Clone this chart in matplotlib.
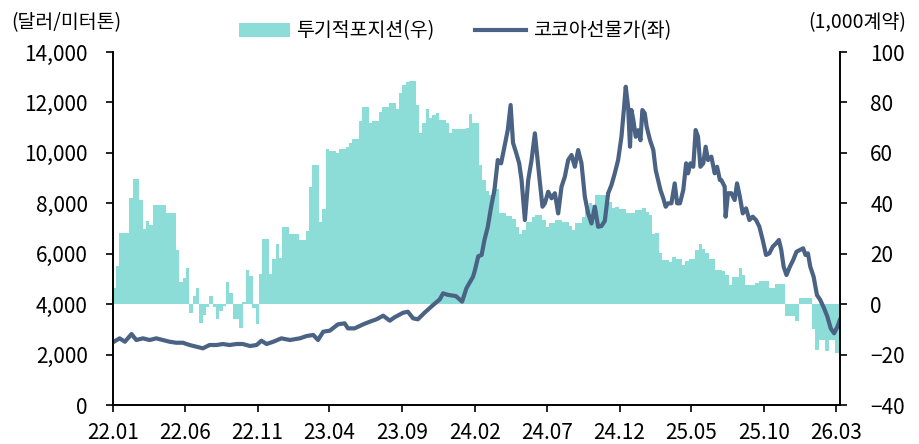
import numpy as np
import pandas as pd
import matplotlib
matplotlib.use('Agg')
import matplotlib.pyplot as plt
import matplotlib.dates as mdates
from matplotlib.ticker import FuncFormatter, MultipleLocator

plt.rcParams['font.family'] = ['Noto Sans CJK KR', 'DejaVu Sans']

# weekly speculative net position (1,000 contracts, right axis)
pos_start = '2022-01-04'
pos_values = [
    6.5, 15, 28.4, 28.4, 28.4, 42.3, 49.6, 49.6, 41.5, 30,
    33, 31.3, 39.3, 39.3, 39.3, 39.3, 36.2, 36.2, 36.2, 21.4,
    8.6, 10.2, 14.2, -3.4, 3.2, 6.5, -7.4, -4.4, -1, 3.2,
    -1, -5.7, -2.6, -0.7, 8.7, 4.6, -5.7, -5.8, -9.6, 1,
    13.5, 11.1, -1.7, -8, 11.8, 26, 26, 12, 18.1, 23.7,
    18.5, 30.7, 30.7, 27.8, 27.8, 27.8, 25.4, 25.4, 29, 46.5,
    55, 55, 32.4, 37.7, 61.5, 60.7, 60.7, 60, 61.5, 61.5,
    62.4, 64, 65.4, 65.4, 72.6, 78.3, 78.3, 72, 72.6, 72.6,
    76.3, 78.3, 78.3, 79.8, 79.8, 77.3, 83.6, 86.9, 88.2, 88.5,
    88.5, 78.9, 67.9, 71.9, 77.3, 74, 75, 75.9, 73.2, 73.2,
    71.7, 67.9, 69.4, 69.4, 69.4, 69.4, 70, 75.6, 71.9, 71.9,
    55, 49.2, 45, 43.2, 45.5, 45.5, 36, 36, 34.9, 34.9,
    33.6, 30.7, 27.8, 29.3, 32.6, 32.6, 34.4, 35.3, 35.3, 33.2,
    30.7, 32.3, 32.3, 33.3, 33.3, 32.6, 32.6, 31.1, 29.6, 32.3,
    32.3, 34.6, 37.3, 40, 39.2, 43.2, 43.2, 43.2, 40.6, 40.6,
    38.3, 38.6, 37.6, 37.6, 36.2, 36.2, 36.2, 37.3, 37.3, 38,
    36.7, 35.3, 28, 28.4, 20.1, 17.4, 17.4, 16.7, 18.8, 17.8,
    17.8, 15.5, 17.2, 17.8, 17.8, 21.4, 23.8, 22, 20.1, 17.8,
    17.8, 13.5, 13.5, 13.2, 11.5, 7.5, 10.8, 10.8, 14.2, 11.5,
    7.5, 7.5, 7.5, 8.5, 9, 9, 9, 6.3, 6.3, 8,
    8, 8, -4.6, -4.6, -4.6, -6.6, 2.4, 2.4, 2.4, 2.4,
    -9.8, -18.3, -14.3, -14.3, -18.7, -14.3, -14.3, -19.3,
]

# cocoa futures price ($/t, left axis)
price_dates = [
    '2022-01-03', '2022-01-15', '2022-01-26', '2022-02-09', '2022-02-19', '2022-03-05',
    '2022-03-19', '2022-04-02', '2022-04-16', '2022-04-30', '2022-05-14', '2022-05-28',
    '2022-06-11', '2022-06-25', '2022-07-09', '2022-07-23', '2022-08-07', '2022-08-20',
    '2022-09-03', '2022-09-18', '2022-10-01', '2022-10-16', '2022-10-30', '2022-11-09',
    '2022-11-20', '2022-12-04', '2022-12-21', '2023-01-08', '2023-01-29', '2023-02-12',
    '2023-02-26', '2023-03-08', '2023-03-19', '2023-04-02', '2023-04-19', '2023-05-03',
    '2023-05-10', '2023-05-24', '2023-06-11', '2023-06-25', '2023-07-09', '2023-07-23',
    '2023-08-06', '2023-08-16', '2023-09-03', '2023-09-13', '2023-09-24', '2023-10-04',
    '2023-10-18', '2023-11-01', '2023-11-19', '2023-11-26', '2023-12-06', '2023-12-23',
    '2024-01-05', '2024-01-14', '2024-01-28', '2024-02-01', '2024-02-08', '2024-02-15',
    '2024-02-21', '2024-02-28', '2024-03-06', '2024-03-13', '2024-03-20', '2024-03-27',
    '2024-04-03', '2024-04-10', '2024-04-16', '2024-04-21', '2024-04-28', '2024-05-04',
    '2024-05-09', '2024-05-16', '2024-05-23', '2024-05-30', '2024-06-06', '2024-06-11',
    '2024-06-16', '2024-06-22', '2024-06-27', '2024-07-04', '2024-07-11', '2024-07-18',
    '2024-07-25', '2024-08-01', '2024-08-08', '2024-08-15', '2024-08-22', '2024-08-29',
    '2024-09-05', '2024-09-12', '2024-09-19', '2024-09-26', '2024-10-03', '2024-10-10',
    '2024-10-17', '2024-10-24', '2024-10-31', '2024-11-07', '2024-11-14', '2024-11-21',
    '2024-11-28', '2024-12-05', '2024-12-10', '2024-12-14', '2024-12-19', '2024-12-23',
    '2024-12-26', '2024-12-30', '2025-01-04', '2025-01-09', '2025-01-14', '2025-01-18',
    '2025-01-23', '2025-01-27', '2025-02-03', '2025-02-10', '2025-02-15', '2025-02-20',
    '2025-02-25', '2025-03-03', '2025-03-08', '2025-03-13', '2025-03-20', '2025-03-27',
    '2025-04-01', '2025-04-07', '2025-04-14', '2025-04-20', '2025-04-24', '2025-04-29',
    '2025-05-05', '2025-05-10', '2025-05-15', '2025-05-20', '2025-05-26', '2025-05-31',
    '2025-06-05', '2025-06-12', '2025-06-19', '2025-06-24', '2025-06-30', '2025-07-03',
    '2025-07-10', '2025-07-12', '2025-07-17', '2025-07-24', '2025-07-31', '2025-08-05',
    '2025-08-11', '2025-08-17', '2025-08-24', '2025-08-31', '2025-09-07', '2025-09-14',
    '2025-09-21', '2025-09-28', '2025-10-05', '2025-10-12', '2025-10-19', '2025-10-26',
    '2025-11-01', '2025-11-06', '2025-11-11', '2025-11-17', '2025-11-24', '2025-12-01',
    '2025-12-08', '2025-12-15', '2025-12-22', '2025-12-27', '2026-01-01', '2026-01-06',
    '2026-01-13', '2026-01-20', '2026-01-27', '2026-02-04', '2026-02-11', '2026-02-18',
    '2026-02-25', '2026-03-04', '2026-03-09',
]
price_values = [
    2510, 2645, 2510, 2815, 2578, 2645,
    2578, 2645, 2578, 2510, 2470, 2470,
    2380, 2312, 2248, 2380, 2380, 2420,
    2380, 2420, 2420, 2340, 2380, 2550,
    2420, 2510, 2645, 2578, 2645, 2736,
    2780, 2578, 2907, 2950, 3200, 3240,
    3040, 3040, 3200, 3305, 3400, 3543,
    3345, 3480, 3660, 3700, 3437, 3400,
    3660, 3900, 4190, 4430, 4370, 4320,
    4100, 4628, 5090, 5350, 5900, 5950,
    6545, 7070, 7865, 8527, 9717, 9586,
    10244, 10906, 11898, 10400, 9980, 9586,
    8924, 7337, 8924, 9717, 10775, 9850,
    8924, 7865, 8000, 8460, 8200, 8400,
    7600, 8660, 9055, 9717, 9915, 9450,
    10113, 9586, 8260, 7600, 7200, 7865,
    7070, 7100, 7300, 8395, 8725, 9190,
    9717, 10640, 11700, 12624, 11830, 10244,
    11700, 11300, 10640, 10900, 10500, 11700,
    11570, 11040, 10510, 10113, 9320, 8924,
    8527, 8197, 7865, 8000, 8000, 8790,
    8000, 8000, 8527, 9586, 9190, 9586,
    9450, 10906, 10640, 9450, 9586, 10244,
    9717, 9850, 9190, 9450, 8924, 8924,
    8660, 7468, 8400, 8400, 8130, 8790,
    8260, 7600, 7800, 7337, 7470, 7337,
    7070, 6545, 5950, 6016, 6280, 6410,
    6545, 6148, 5485, 5155, 5485, 5750,
    6080, 6148, 6215, 5950, 6016, 5485,
    5090, 4363, 4166, 3835, 3502, 3040,
    2845, 3105, 3370,
]

labels = ['투기적포지션(우)', '코코아선물가(좌)']
bar_color = '#8cdcd7'
line_color = '#4a6283'

pos_dates = pd.date_range(pos_start, periods=len(pos_values), freq='7D')
pdates = pd.to_datetime(price_dates)

fig = plt.figure(figsize=(9.2, 4.44), dpi=100)
ax = fig.add_axes([0.1228, 0.0878, 0.790, 0.795])
ax2 = ax.twinx()

b = ax2.bar(pos_dates, pos_values, width=7.4, color=bar_color, linewidth=0, label=labels[0])
l, = ax.plot(pdates, price_values, color=line_color, lw=3.0, label=labels[1], solid_joinstyle='round')

# price line drawn over the bars
ax.set_zorder(ax2.get_zorder() + 1)
ax.patch.set_visible(False)

ax.set_xlim(pd.Timestamp('2022-01-01'), pd.Timestamp('2026-03-09'))
ax.set_ylim(0, 14000)
ax2.set_ylim(-40, 100)
ax.yaxis.set_major_locator(MultipleLocator(2000))
ax2.yaxis.set_major_locator(MultipleLocator(20))
ax.yaxis.set_major_formatter(FuncFormatter(lambda v, p: f'{v:,.0f}'))

xt = pd.date_range('2022-01-01', '2026-03-01', freq='5MS')
ax.set_xticks(xt)
ax.xaxis.set_major_formatter(mdates.DateFormatter('%y.%m'))

for a in (ax, ax2):
    a.spines['top'].set_visible(False)
    for s in a.spines.values():
        s.set_linewidth(1.2)
    a.tick_params(direction='out', length=5, width=1.2, labelsize=15, colors='black')
ax.tick_params(axis='y', pad=13)
ax2.tick_params(axis='y', pad=17)
ax.tick_params(axis='x', pad=7)

fig.text(0.012, 0.95, '(달러/미터톤)', fontsize=14, ha='left', va='center')
fig.text(0.985, 0.95, '(1,000계약)', fontsize=14, ha='right', va='center')

fig.legend(handles=[b, l], labels=labels, loc='center', bbox_to_anchor=(0.4946, 0.93),
           ncol=2, frameon=False, fontsize=14, handlelength=2.6, columnspacing=2.1,
           handletextpad=0.35)

fig.savefig('out.png', dpi=100)
